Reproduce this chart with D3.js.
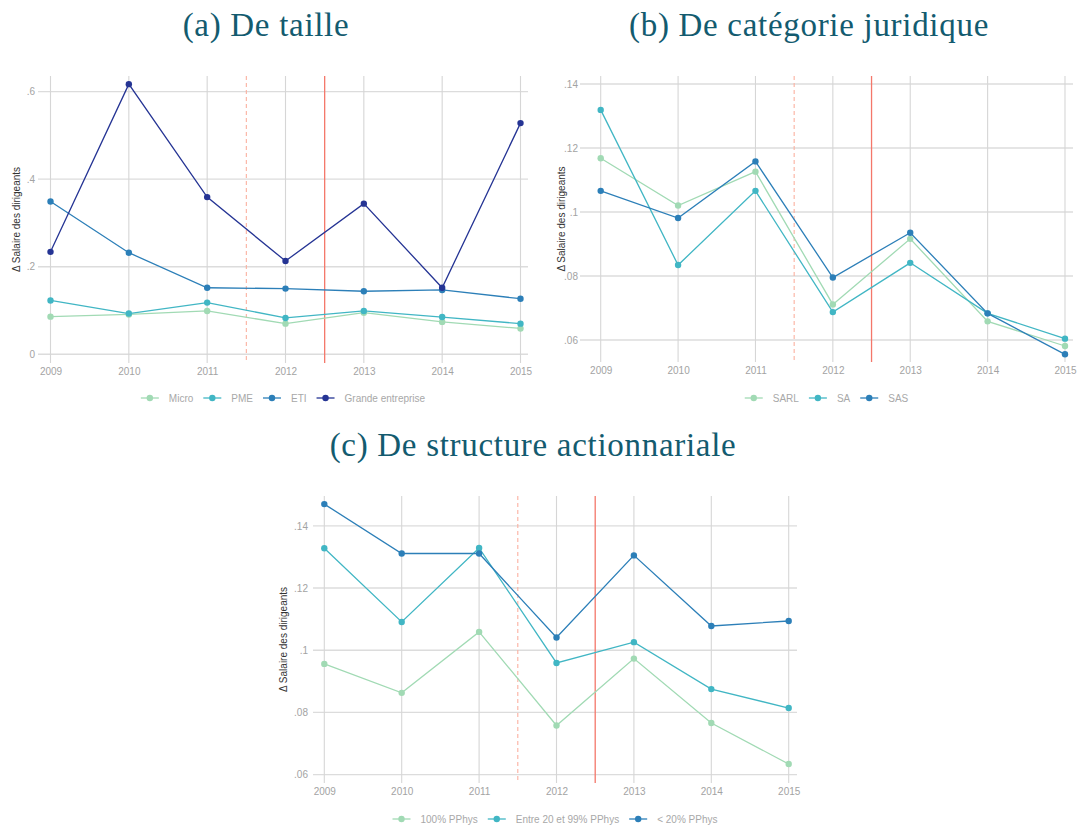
<!DOCTYPE html>
<html>
<head>
<meta charset="utf-8">
<script src="https://cdn.jsdelivr.net/npm/d3@7"></script>
<style>
  html, body { margin: 0; padding: 0; background: #ffffff; }
  svg { display: block; }
</style>
</head>
<body>
<svg id="chart" width="1077" height="825"></svg>
<script>
// ---------- DATA ----------
const years = [2009, 2010, 2011, 2012, 2013, 2014, 2015];

// (a) De taille
const tailleSeries = ["Micro", "PME", "ETI", "Grande entreprise"];
const tailleMicro  = [0.086, 0.091, 0.099, 0.070, 0.095, 0.074, 0.059];
const taillePME    = [0.123, 0.093, 0.118, 0.083, 0.099, 0.085, 0.070];
const tailleETI    = [0.349, 0.232, 0.152, 0.150, 0.144, 0.147, 0.127];
const tailleGrande = [0.234, 0.617, 0.359, 0.213, 0.344, 0.152, 0.528];
const tailleTicks  = [0, 0.2, 0.4, 0.6];

// (b) De catégorie juridique
const juridSeries = ["SARL", "SA", "SAS"];
const juridSARL = [0.1168, 0.1020, 0.1126, 0.0711, 0.0916, 0.0658, 0.0581];
const juridSA   = [0.1319, 0.0834, 0.1066, 0.0687, 0.0841, 0.0683, 0.0604];
const juridSAS  = [0.1066, 0.0981, 0.1158, 0.0795, 0.0935, 0.0683, 0.0555];
const juridTicks = [0.06, 0.08, 0.10, 0.12, 0.14];

// (c) De structure actionnariale
const structSeries = ["100% PPhys", "Entre 20 et 99% PPhys", "< 20% PPhys"];
const struct100   = [0.0956, 0.0863, 0.1059, 0.0758, 0.0973, 0.0766, 0.0634];
const structEntre = [0.1328, 0.1091, 0.1329, 0.0959, 0.1026, 0.0875, 0.0814];
const struct20    = [0.1470, 0.1311, 0.1311, 0.1041, 0.1305, 0.1078, 0.1094];
const structTicks = [0.06, 0.08, 0.10, 0.12, 0.14];

const refDashed = 2011.5;
const refSolid  = 2012.5;

const titles = ["(a) De taille", "(b) De catégorie juridique", "(c) De structure actionnariale"];
const yLabel = "Δ Salaire des dirigeants";

// ---------- STYLE ----------
const palette4 = ["#a1dab4", "#41b6c4", "#2c7fb8", "#253494"];
const palette3 = ["#a1dab4", "#41b6c4", "#2c7fb8"];
const titleColor = "#135b6f";

const svg = d3.select("#chart");

function drawPanel(cfg) {
  const g = svg.append("g");
  const x = d3.scaleLinear().domain([2009, 2015]).range([cfg.x0, cfg.x1]);
  const y = d3.scaleLinear().domain(cfg.yDomain).range([cfg.bottom, cfg.top]);
  const fmt = d => d === 0 ? "0" : d3.format(".2~f")(d).replace(/^0/, "");

  // horizontal grid
  g.selectAll("line.hg").data(cfg.ticks).join("line")
    .attr("x1", cfg.left).attr("x2", cfg.right)
    .attr("y1", d => y(d)).attr("y2", d => y(d))
    .attr("stroke", "#dcdcdc").attr("stroke-width", 1.4);
  // vertical grid
  g.selectAll("line.vg").data(years).join("line")
    .attr("x1", d => x(d)).attr("x2", d => x(d))
    .attr("y1", cfg.top).attr("y2", cfg.bottom)
    .attr("stroke", "#d6d6d6").attr("stroke-width", 1.1);

  // y axis tick labels
  const yAxis = d3.axisLeft(y).tickValues(cfg.ticks).tickFormat(fmt).tickSize(0).tickPadding(0);
  const ya = g.append("g").attr("transform", `translate(${cfg.left - cfg.yPad},0)`).call(yAxis);
  ya.select(".domain").remove();
  ya.selectAll("text").attr("fill", "#a3a3a3").attr("font-family", "Liberation Sans, Arial, sans-serif").attr("font-size", 10);

  // x axis tick labels
  const xAxis = d3.axisBottom(x).tickValues(years).tickFormat(d3.format("d")).tickSize(0).tickPadding(0);
  const xa = g.append("g").attr("transform", `translate(0,${cfg.bottom + 5})`).call(xAxis);
  xa.select(".domain").remove();
  xa.selectAll("text").attr("fill", "#a3a3a3").attr("font-family", "Liberation Sans, Arial, sans-serif").attr("font-size", 10);

  // reference lines
  g.append("line").attr("x1", x(refDashed)).attr("x2", x(refDashed))
    .attr("y1", cfg.top).attr("y2", cfg.bottom)
    .attr("stroke", "#fbb0a0").attr("stroke-width", 1.1).attr("stroke-dasharray", "4,3");
  g.append("line").attr("x1", x(refSolid)).attr("x2", x(refSolid))
    .attr("y1", cfg.top).attr("y2", cfg.bottom)
    .attr("stroke", "#f4776a").attr("stroke-width", 1.3);

  // series
  const line = d3.line().x((d, i) => x(years[i])).y(d => y(d));
  cfg.series.forEach((vals, k) => {
    g.append("path").datum(vals).attr("d", line)
      .attr("fill", "none").attr("stroke", cfg.colors[k]).attr("stroke-width", 1.3);
  });
  cfg.series.forEach((vals, k) => {
    g.selectAll(null).data(vals).join("circle")
      .attr("cx", (d, i) => x(years[i])).attr("cy", d => y(d)).attr("r", 3.2)
      .attr("fill", cfg.colors[k]);
  });

  // y label
  g.append("text")
    .attr("transform", `translate(${cfg.yLabelX},${(cfg.top + cfg.bottom) / 2}) rotate(-90)`)
    .attr("text-anchor", "middle").attr("dominant-baseline", "central")
    .attr("font-family", "Liberation Sans, Arial, sans-serif").attr("font-size", 10)
    .attr("fill", "#333").text(yLabel);

  // title
  g.append("text").attr("x", cfg.titleX).attr("y", cfg.titleY)
    .attr("text-anchor", "middle")
    .attr("font-family", "Liberation Serif, serif").attr("font-size", 33)
    .attr("letter-spacing", 0.7)
    .attr("fill", titleColor).text(cfg.title);

  // legend
  const lg = g.append("g");
  const items = cfg.names.map((n, k) => ({ name: n, color: cfg.colors[k] }));
  let cx = 0;
  const placed = [];
  items.forEach(it => {
    const t = lg.append("text").attr("font-family", "Liberation Sans, Arial, sans-serif")
      .attr("font-size", 10).attr("fill", "#a8a8a8").attr("dominant-baseline", "central").text(it.name);
    const w = t.node().getComputedTextLength();
    placed.push({ it, t, sx: cx });
    cx += 18 + 10 + w + 10;
  });
  const total = cx - 10;
  const startX = (cfg.left + cfg.right) / 2 - total / 2;
  placed.forEach(p => {
    const sx = startX + p.sx;
    lg.append("line").attr("x1", sx).attr("x2", sx + 18).attr("y1", cfg.legendY).attr("y2", cfg.legendY)
      .attr("stroke", p.it.color).attr("stroke-width", 1.3);
    lg.append("circle").attr("cx", sx + 9).attr("cy", cfg.legendY).attr("r", 3.2).attr("fill", p.it.color);
    p.t.attr("x", sx + 28).attr("y", cfg.legendY);
  });
}

drawPanel({
  title: titles[0], titleX: 266, titleY: 36,
  x0: 50.5, x1: 520.5, left: 38, right: 528, top: 76, bottom: 363,
  yDomain: [-0.0199, 0.6356], ticks: tailleTicks, yPad: 3, yLabelX: 16,
  series: [tailleMicro, taillePME, tailleETI, tailleGrande],
  names: tailleSeries, colors: palette4, legendY: 398
});

drawPanel({
  title: titles[1], titleX: 809, titleY: 36,
  x0: 600.7, x1: 1065, left: 580, right: 1073, top: 76, bottom: 362,
  yDomain: [0.0531, 0.1425], ticks: juridTicks, yPad: 2, yLabelX: 561,
  series: [juridSARL, juridSA, juridSAS],
  names: juridSeries, colors: palette3, legendY: 398
});

drawPanel({
  title: titles[2], titleX: 533, titleY: 456,
  x0: 324.3, x1: 788.7, left: 313, right: 797, top: 496, bottom: 783,
  yDomain: [0.0573, 0.1496], ticks: structTicks, yPad: 5, yLabelX: 283,
  series: [struct100, structEntre, struct20],
  names: structSeries, colors: palette3, legendY: 819
});
</script>
</body>
</html>
